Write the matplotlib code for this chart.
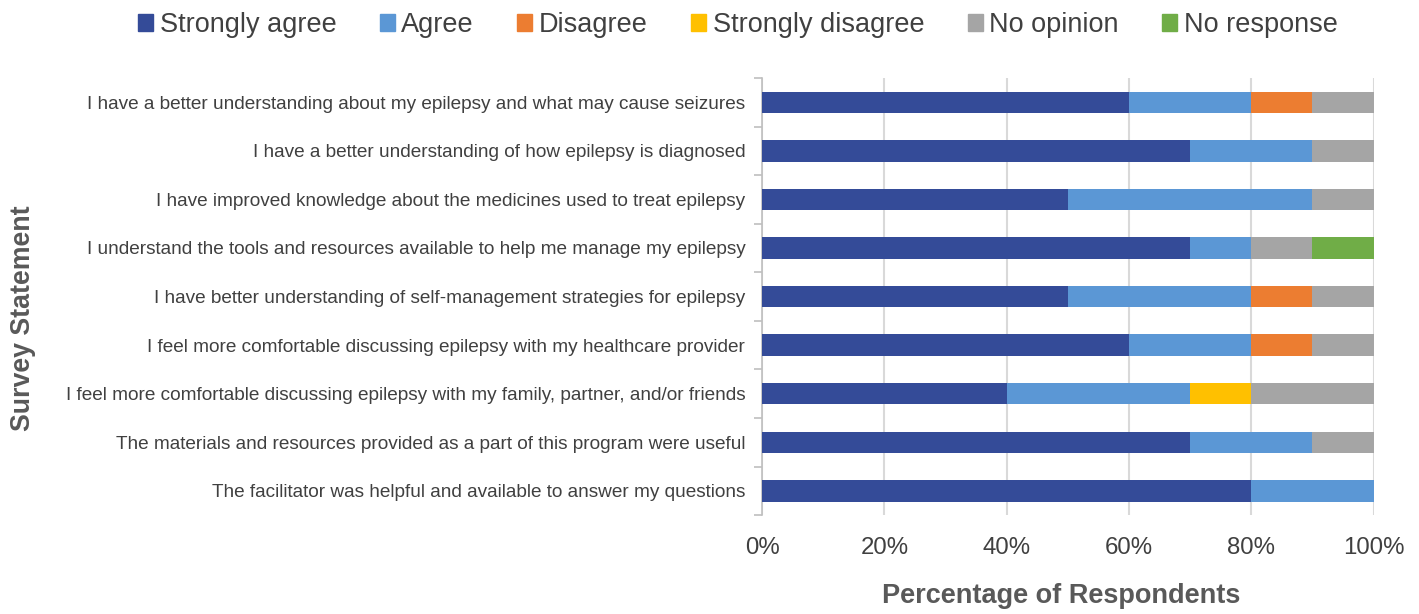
import numpy as np
import matplotlib.pyplot as plt
from matplotlib.patches import Patch

# Survey responses (% of respondents) per statement
statements = [
    'I have a better understanding about my epilepsy and what may cause seizures',
    'I have a better understanding of how epilepsy is diagnosed',
    'I have improved knowledge about the medicines used to treat epilepsy',
    'I understand the tools and resources available to help me manage my epilepsy',
    'I have better understanding of self-management strategies for epilepsy',
    'I feel more comfortable discussing epilepsy with my healthcare provider',
    'I feel more comfortable discussing epilepsy with my family, partner, and/or friends',
    'The materials and resources provided as a part of this program were useful',
    'The facilitator was helpful and available to answer my questions',
]
strongly_agree = [60, 70, 50, 70, 50, 60, 40, 70, 80]
agree = [20, 20, 40, 10, 30, 20, 30, 20, 20]
disagree = [10, 0, 0, 0, 10, 10, 0, 0, 0]
strongly_disagree = [0, 0, 0, 0, 0, 0, 10, 0, 0]
no_opinion = [10, 10, 10, 10, 10, 10, 20, 10, 0]
no_response = [0, 0, 0, 10, 0, 0, 0, 0, 0]

series = [
    ('Strongly agree', strongly_agree, '#344B98'),
    ('Agree', agree, '#5B97D5'),
    ('Disagree', disagree, '#EC7D31'),
    ('Strongly disagree', strongly_disagree, '#FFC000'),
    ('No opinion', no_opinion, '#A5A5A5'),
    ('No response', no_response, '#70AD47'),
]

plt.rcParams['font.family'] = 'Liberation Sans'
text_col = '#404040'

fig = plt.figure(figsize=(14.19, 6.14), dpi=100)
ax = fig.add_axes([0.537, 0.161, 0.431, 0.712])

y = np.arange(len(statements))
left = np.zeros(len(statements))
for name, vals, col in series:
    vals = np.array(vals, dtype=float)
    ax.barh(y, vals, left=left, height=0.44, color=col, label=name, zorder=3)
    left += vals

ax.set_xlim(0, 100)
ax.set_ylim(len(statements) - 0.5, -0.5)
ax.set_xticks(range(0, 101, 20))
ax.set_xticklabels([f'{v}%' for v in range(0, 101, 20)], fontsize=17.3, color=text_col)
ax.tick_params(axis='x', length=0, pad=16)
ax.xaxis.grid(True, color='#D9D9D9', linewidth=1.5, zorder=0)

ax.set_yticks(y)
ax.set_yticklabels(statements, fontsize=13.7, color=text_col)
ax.tick_params(axis='y', which='major', length=0, pad=12)
ax.set_yticks(np.arange(-0.5, len(statements)), minor=True)
ax.tick_params(axis='y', which='minor', length=6, color='#BFBFBF', width=1.2)

for s in ['top', 'right', 'bottom']:
    ax.spines[s].set_visible(False)
ax.spines['left'].set_color('#BFBFBF')
ax.spines['left'].set_linewidth(1.2)

fig.text(0.748, 0.03, 'Percentage of Respondents', fontsize=19.5,
         fontweight='bold', color='#595959', ha='center', va='center')
fig.text(0.016, 0.482, 'Survey Statement', rotation=90, fontsize=19.3,
         fontweight='bold', color='#595959', ha='center', va='center')

handles = [Patch(color=c) for _, _, c in series]
fig.legend(handles, [n for n, _, _ in series], loc='upper center',
           bbox_to_anchor=(0.52, 1.02), ncol=6, frameon=False, fontsize=19.5,
           handlelength=0.55, handleheight=0.55, handletextpad=0.25,
           columnspacing=1.6, labelcolor=text_col)

fig.savefig('out.png', dpi=100)
